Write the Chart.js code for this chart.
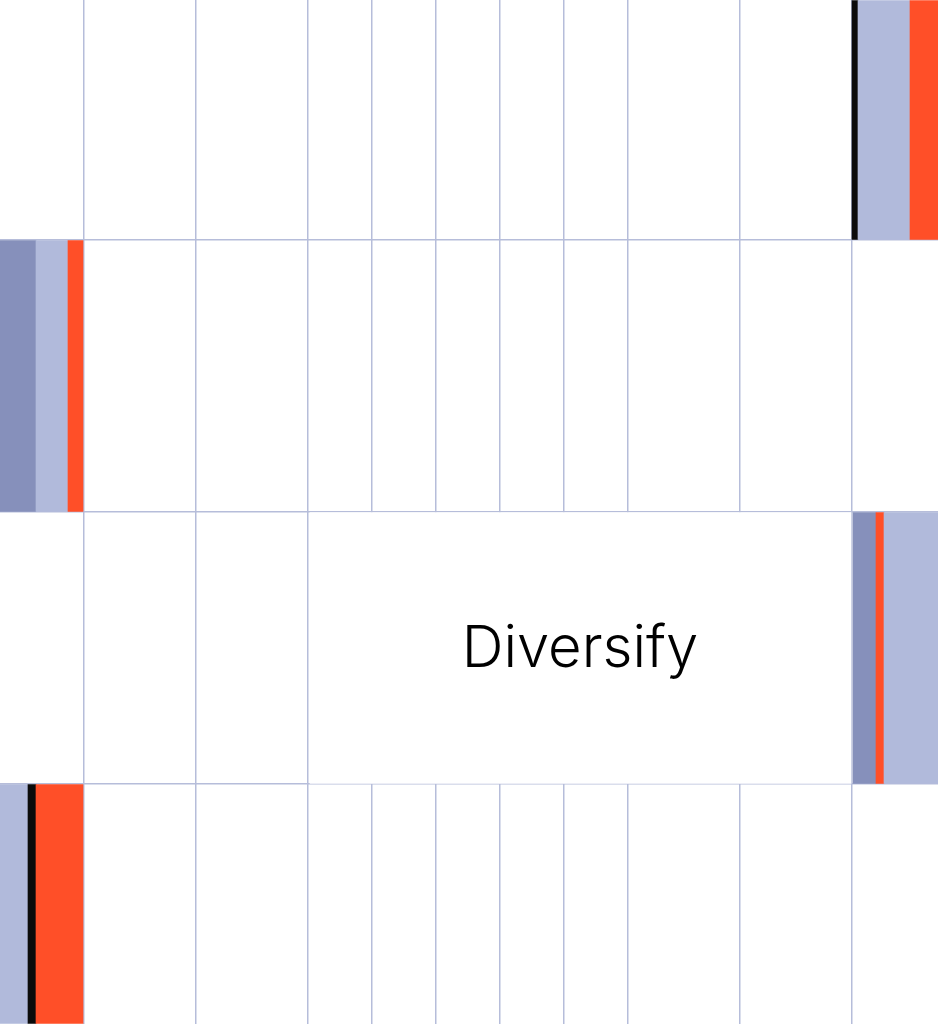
<!DOCTYPE html>
<html>
<head>
<meta charset="utf-8">
<script src="https://cdn.jsdelivr.net/npm/chart.js@4"></script>
<style>
  html, body { margin: 0; padding: 0; background: #fff; }
  canvas { display: block; }
</style>
</head>
<body>
<canvas id="grid" width="938" height="1024"></canvas>
<script>
// --- data ---
const columnLines = [84, 196, 308, 372, 436, 500, 564, 628, 740, 852];
const rowLines = [240, 512, 784];
const rowTops = [0, 240, 512, 784];
const rowBottoms = [240, 512, 784, 1024];

// segments per row: [start, end] and colour
const row1Segments = [[852, 858], [858, 910], [910, 938]];
const row1Colors = ['#0b0b0b', '#b1badb', '#ff4f28'];
const row2Segments = [[0, 36], [36, 68], [68, 83]];
const row2Colors = ['#8690bb', '#b1badb', '#ff4f28'];
const row3Segments = [[310, 851], [853, 876], [876, 884], [884, 938]];
const row3Colors = ['#ffffff', '#8690bb', '#ff4f28', '#b1badb'];
const row4Segments = [[0, 28], [28, 36], [36, 83]];
const row4Colors = ['#b1badb', '#0b0b0b', '#ff4f28'];

const label = 'Diversify';
const labelAt = { x: 580, y: 650 };

const gridColor = '#b6bdda';

const allSegments = [row1Segments, row2Segments, row3Segments, row4Segments];
const allColors = [row1Colors, row2Colors, row3Colors, row4Colors];

const datasets = allSegments.map((segs, i) => ({
    data: segs.map(s => ({ x: s, y: (rowTops[i] + rowBottoms[i]) / 2 })),
    backgroundColor: allColors[i],
    barThickness: rowBottoms[i] - rowTops[i] - 1,
    borderWidth: 0,
    borderSkipped: false,
    grouped: false
}));

// texte au centre
const labelPlugin = {
    id: 'label',
    afterDatasetsDraw(chart) {
        const ctx = chart.ctx;
        const x = chart.scales.x.getPixelForValue(labelAt.x);
        const y = chart.scales.y.getPixelForValue(labelAt.y);
        ctx.save();
        ctx.fillStyle = '#000';
        ctx.font = '300 58px Inter, "DejaVu Sans", sans-serif';
        ctx.textAlign = 'center';
        ctx.textBaseline = 'middle';
        ctx.fillText(label, x, y);
        ctx.restore();
    }
};

new Chart(document.getElementById('grid'), {
    type: 'bar',
    data: { datasets: datasets },
    plugins: [labelPlugin],
    options: {
        responsive: false,
        animation: false,
        indexAxis: 'y',
        layout: { padding: 0 },
        plugins: { legend: { display: false }, tooltip: { enabled: false } },
        scales: {
            x: {
                type: 'linear', min: 0, max: 938, offset: false,
                afterBuildTicks: axis => { axis.ticks = columnLines.map(v => ({ value: v })); },
                ticks: { display: false },
                grid: { color: gridColor, lineWidth: 1.5, drawTicks: false, offset: false },
                border: { display: false }
            },
            y: {
                type: 'linear', min: 0, max: 1024, reverse: true, offset: false,
                afterBuildTicks: axis => { axis.ticks = rowLines.map(v => ({ value: v })); },
                ticks: { display: false },
                grid: { color: gridColor, lineWidth: 1.5, drawTicks: false, offset: false },
                border: { display: false }
            }
        }
    }
});
</script>
</body>
</html>
